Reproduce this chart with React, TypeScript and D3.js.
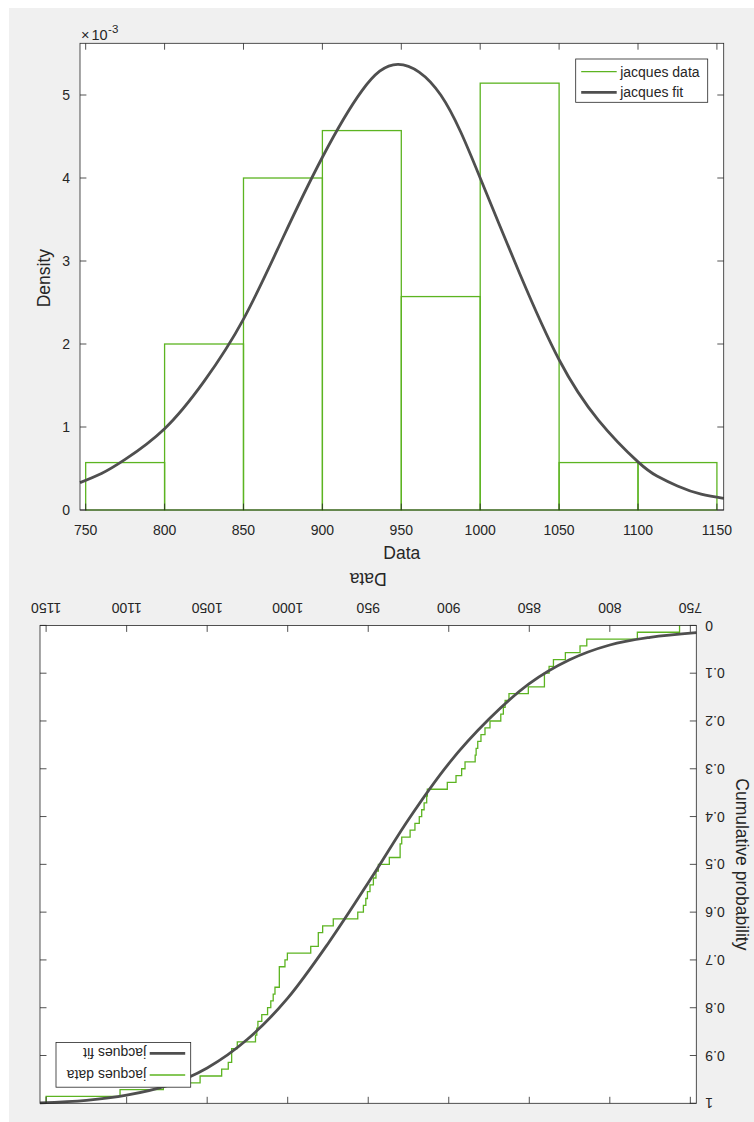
import React from "react";
import * as d3 from "d3";

// ---- data ----
const jacquesData = [
  756.7, 782.9, 814.3, 818.5, 827.6, 835.0, 837.7, 840.6, 840.6, 850.6,
  862.6, 865.0, 866.1, 867.7, 874.4, 877.5, 880.0, 882.0, 883.0, 883.6,
  889.9, 892.0, 895.5, 900.9, 913.3, 913.7, 915.3, 916.8, 918.3, 921.0,
  924.0, 929.2, 930.2, 930.2, 936.9, 943.7, 945.2, 946.8, 948.9, 950.5,
  951.5, 953.0, 956.5, 971.7, 978.3, 981.0, 981.0, 985.7, 1000.2, 1001.7,
  1005.2, 1005.2, 1005.2, 1007.9, 1009.0, 1010.5, 1012.5, 1016.1, 1018.5, 1019.2,
  1020.0, 1031.3, 1034.8, 1034.8, 1036.9, 1041.0, 1054.4, 1077.2, 1104.1, 1150.0,
];
const binEdges = [750, 800, 850, 900, 950, 1000, 1050, 1100, 1150];
const xTicks = [750, 800, 850, 900, 950, 1000, 1050, 1100, 1150];
const densityTicks = [0, 1, 2, 3, 4, 5]; // x 10^-3
const probTicks = [0, 0.1, 0.2, 0.3, 0.4, 0.5, 0.6, 0.7, 0.8, 0.9, 1];
const probTickLabels = ["0", "0.1", "0.2", "0.3", "0.4", "0.5", "0.6", "0.7", "0.8", "0.9", "1"];

// fitted density curve (x 10^-3)
const pdfFitX = [746.4, 760, 775, 800, 825, 850, 875, 900, 925, 948, 975, 1000, 1025, 1050, 1075, 1100, 1112, 1125, 1140, 1154.3];
const pdfFitY = [0.33, 0.44, 0.61, 0.98, 1.55, 2.30, 3.28, 4.25, 5.05, 5.37, 5.00, 4.00, 2.85, 1.81, 1.08, 0.58, 0.41, 0.29, 0.19, 0.14];

// fitted cumulative curve
const cdfFitX = [746.3, 775, 800, 825, 850, 875, 900, 925, 948, 975, 1000, 1025, 1050, 1075, 1100, 1125, 1153.8];
const cdfFitY = [0.015, 0.025, 0.041, 0.072, 0.122, 0.196, 0.289, 0.406, 0.528, 0.666, 0.780, 0.866, 0.926, 0.963, 0.983, 0.994, 0.999];

const legendLabels = ["jacques data", "jacques fit"];

const GREEN = "#5cb421";
const FIT = "#4f4f4f";
const AX = "#262626";
const BG = "#f0f0f0";
const FONT = "'Liberation Sans', Arial, Helvetica, sans-serif";

export default function App() {
  const n = jacquesData.length;

  // ---------- top panel ----------
  const xT = d3.scaleLinear().domain([746.4, 1154.3]).range([80, 723.7]);
  const yT = d3.scaleLinear().domain([0, 5.623]).range([510, 43.3]);
  const bins = d3
    .bin()
    .domain([binEdges[0], binEdges[binEdges.length - 1]])
    .thresholds(binEdges.slice(1, -1))(jacquesData);
  const dens = (b: any) => (b.length / (n * (b.x1 - b.x0))) * 1000;
  const pdfPath = d3
    .line<number>()
    .x((_, i) => xT(pdfFitX[i]))
    .y((d) => yT(d))
    .curve(d3.curveNatural)(pdfFitY) as string;

  const [tx0, tx1] = xT.range();
  const [ty0, ty1] = yT.range(); // bottom, top
  const tl = 6.4;

  // ---------- bottom panel (drawn normally, then rotated 180deg) ----------
  const xB = d3.scaleLinear().domain([746.3, 1153.8]).range([40, 696.3]);
  const yB = d3.scaleLinear().domain([0, 1]).range([1103.3, 625.4]);
  const [bx0, bx1] = xB.range();
  const [by0, by1] = yB.range();
  const cx = (bx0 + bx1) / 2;
  const cy = (by0 + by1) / 2;
  const sorted = [...jacquesData].sort((a, b) => a - b);
  const ecdfPts: [number, number][] = [[sorted[0], 0], ...sorted.map((v, i) => [v, (i + 1) / n] as [number, number])];
  const ecdfPath = d3
    .line<[number, number]>()
    .x((d) => xB(d[0]))
    .y((d) => yB(d[1]))
    .curve(d3.curveStepAfter)(ecdfPts) as string;
  const cdfPath = d3
    .line<number>()
    .x((_, i) => xB(cdfFitX[i]))
    .y((d) => yB(d))
    .curve(d3.curveMonotoneX)(cdfFitY) as string;
  const tlB = 6.5;

  const legend = (lx: number, ly: number, w: number, h: number, r0: number, r1: number) => (
    <g>
      <rect x={lx} y={ly} width={w} height={h} fill="white" stroke={AX} strokeWidth={0.8} />
      <line x1={lx + 5.5} x2={lx + 41} y1={r0} y2={r0} stroke={GREEN} strokeWidth={1.3} />
      <line x1={lx + 5.5} x2={lx + 41} y1={r1} y2={r1} stroke={FIT} strokeWidth={2.8} />
      <text x={lx + 44.5} y={r0} dy="0.35em" fontSize={14} fill={AX}>{legendLabels[0]}</text>
      <text x={lx + 44.5} y={r1} dy="0.35em" fontSize={14} fill={AX}>{legendLabels[1]}</text>
    </g>
  );

  return (
    <svg
      width={754}
      height={1122}
      style={{ position: "absolute", left: 0, top: 0, background: "white" }}
      fontFamily={FONT}
    >
      <rect x={9} y={8} width={745} height={1114} fill={BG} />

      {/* ================= TOP: histogram + density fit ================= */}
      <rect x={tx0} y={ty1} width={tx1 - tx0} height={ty0 - ty1} fill="white" />
      {bins.map((b, i) => (
        <rect
          key={i}
          x={xT(b.x0 as number)}
          y={yT(dens(b))}
          width={xT(b.x1 as number) - xT(b.x0 as number)}
          height={yT(0) - yT(dens(b))}
          fill="none"
          stroke={GREEN}
          strokeWidth={1.3}
        />
      ))}
      <path d={pdfPath} fill="none" stroke={FIT} strokeWidth={2.8} strokeLinejoin="round" />
      <rect x={tx0} y={ty1} width={tx1 - tx0} height={ty0 - ty1} fill="none" stroke={AX} strokeWidth={0.8} />
      {xTicks.map((t) => (
        <g key={"xt" + t}>
          <line x1={xT(t)} x2={xT(t)} y1={ty0} y2={ty0 - tl} stroke={AX} strokeWidth={0.8} />
          <line x1={xT(t)} x2={xT(t)} y1={ty1} y2={ty1 + tl} stroke={AX} strokeWidth={0.8} />
          <text x={xT(t)} y={534.5} textAnchor="middle" fontSize={14} fill={AX}>{t}</text>
        </g>
      ))}
      {densityTicks.map((t) => (
        <g key={"yt" + t}>
          <line x1={tx0} x2={tx0 + tl} y1={yT(t)} y2={yT(t)} stroke={AX} strokeWidth={0.8} />
          <line x1={tx1} x2={tx1 - tl} y1={yT(t)} y2={yT(t)} stroke={AX} strokeWidth={0.8} />
          <text x={70} y={yT(t)} dy="0.35em" textAnchor="end" fontSize={14} fill={AX}>{t}</text>
        </g>
      ))}
      <text x={81} y={40} fontSize={14.5} fill={AX}>
        ×<tspan dx={2}>10</tspan>
        <tspan dx={0.5} dy={-7.5} fontSize={11.5}>-3</tspan>
      </text>
      <text x={(tx0 + tx1) / 2} y={559} textAnchor="middle" fontSize={17.5} fill={AX}>Data</text>
      <text
        transform={`translate(49.6, ${(ty0 + ty1) / 2 + 1.5}) rotate(-90)`}
        textAnchor="middle"
        fontSize={17.5}
        fill={AX}
      >
        Density
      </text>
      {legend(575.7, 59, 132, 43.3, 71.7, 92.3)}

      {/* ================= BOTTOM: cumulative, rotated 180 ================= */}
      <g transform={`rotate(180 ${cx} ${cy})`}>
        <rect x={bx0} y={by1} width={bx1 - bx0} height={by0 - by1} fill="white" />
        <path d={ecdfPath} fill="none" stroke={GREEN} strokeWidth={1.3} />
        <path d={cdfPath} fill="none" stroke={FIT} strokeWidth={2.8} strokeLinejoin="round" />
        <rect x={bx0} y={by1} width={bx1 - bx0} height={by0 - by1} fill="none" stroke={AX} strokeWidth={0.8} />
        {xTicks.map((t) => (
          <g key={"bxt" + t}>
            <line x1={xB(t)} x2={xB(t)} y1={by0} y2={by0 - tlB} stroke={AX} strokeWidth={0.8} />
            <line x1={xB(t)} x2={xB(t)} y1={by1} y2={by1 + tlB} stroke={AX} strokeWidth={0.8} />
            <text x={xB(t)} y={1126} textAnchor="middle" fontSize={14} fill={AX}>{t}</text>
          </g>
        ))}
        {probTicks.map((t, i) => (
          <g key={"byt" + t}>
            <line x1={bx0} x2={bx0 + tlB} y1={yB(t)} y2={yB(t)} stroke={AX} strokeWidth={0.8} />
            <line x1={bx1} x2={bx1 - tlB} y1={yB(t)} y2={yB(t)} stroke={AX} strokeWidth={0.8} />
            <text x={31} y={yB(t)} dy="0.35em" textAnchor="end" fontSize={14} fill={AX}>{probTickLabels[i]}</text>
          </g>
        ))}
        <text x={cx} y={1155.7} textAnchor="middle" fontSize={17.5} fill={AX}>Data</text>
        <text
          transform={`translate(0.3, ${cy}) rotate(-90)`}
          textAnchor="middle"
          fontSize={17.5}
          fill={AX}
        >
          Cumulative probability
        </text>
        {legend(545.6, 641.5, 134.7, 44.6, 653.7, 675.4)}
      </g>
    </svg>
  );
}
